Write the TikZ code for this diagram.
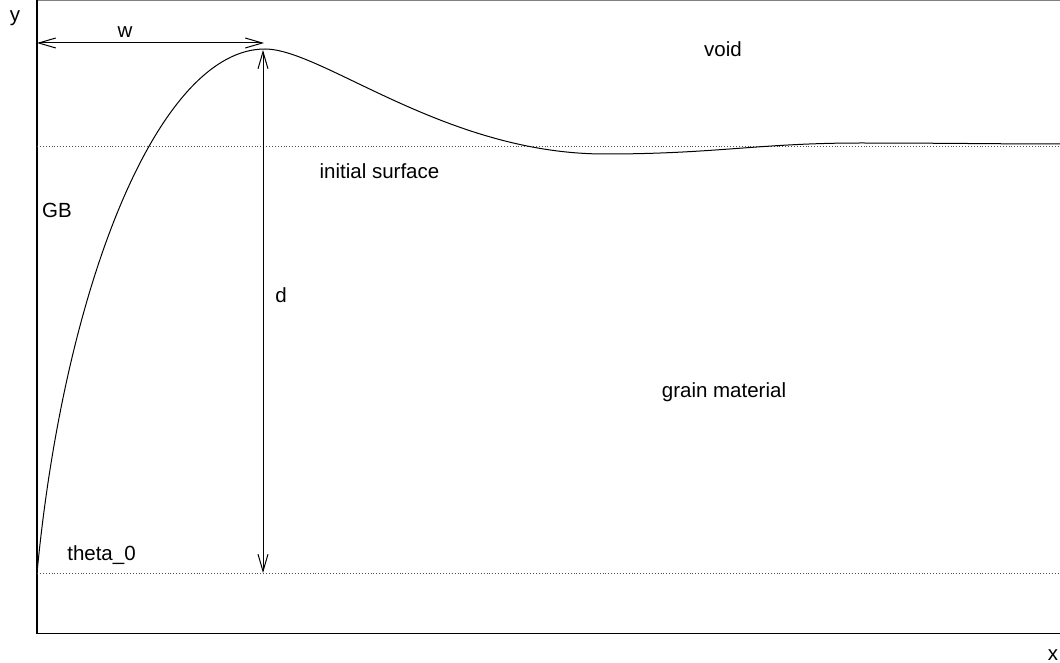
\documentclass[tikz,border=0pt]{standalone}
\usepackage{fontspec}
\setmainfont{Liberation Sans}
\usetikzlibrary{arrows.meta}
\begin{document}
\begin{tikzpicture}[x=1pt,y=-1pt,
  lbl/.style={anchor=base,inner sep=0pt,font=\fontsize{20.5}{24}\selectfont},
  dim/.style={line width=1pt,{Straight Barb[length=17pt,width=10pt]}-{Straight Barb[length=17pt,width=10pt]}},
  guide/.style={dotted,line width=0.9pt,black!70},
  axis/.style={line width=1.2pt},
  profile/.style={line width=1pt}]
\useasboundingbox (0,0) rectangle (1060,663);
% frame / axes
\coordinate (O) at (37,633.5);
\coordinate (Ytop) at (37,0);
\coordinate (Xend) at (1060,633.5);
\coordinate (TL) at (37,0.7);
\coordinate (TR) at (1060,0.7);
\draw[gray,line width=1.2pt] (TL) -- (TR);
\draw[axis] (Ytop) -- (O) -- (Xend);
% dotted guides
\coordinate (s1) at (37,146); \coordinate (s2) at (1060,146);
\coordinate (b1) at (37,573); \coordinate (b2) at (1060,573);
\draw[guide] (s1) -- (s2);
\draw[guide] (b1) -- (b2);
% profile
\coordinate (p0) at (37,573);
\coordinate (peak) at (265,49);
\coordinate (trough) at (605,154);
\coordinate (p3) at (860,143);
\coordinate (pend) at (1060,144);
\draw[profile] (p0) .. controls (65,280) and (160,49) .. (peak)
  .. controls (322,49) and (445,154) .. (trough)
  .. controls (715,154) and (760,143) .. (p3)
  .. controls (940,143) and (1000,144) .. (pend);
% dimensions
\coordinate (wl) at (37,43); \coordinate (wr) at (264,43);
\draw[dim] (wl) -- (wr);
\coordinate (dt) at (263,50); \coordinate (db) at (263,573);
\draw[dim] (dt) -- (db);
% labels
\node[lbl] (ly) at (15,22) {y};
\node[lbl] (lx) at (1053,660) {x};
\node[lbl] (lw) at (125,38) {w};
\node[lbl] (lvoid) at (723,57) {void};
\node[lbl] (lis) at (379.5,179) {initial surface};
\node[lbl] (lgb) at (57,218) {GB};
\node[lbl] (ld) at (281,302) {d};
\node[lbl] (lgm) at (724,397.5) {grain material};
\node[lbl] (lth) at (101.5,560) {theta\_0};
\end{tikzpicture}
\end{document}
